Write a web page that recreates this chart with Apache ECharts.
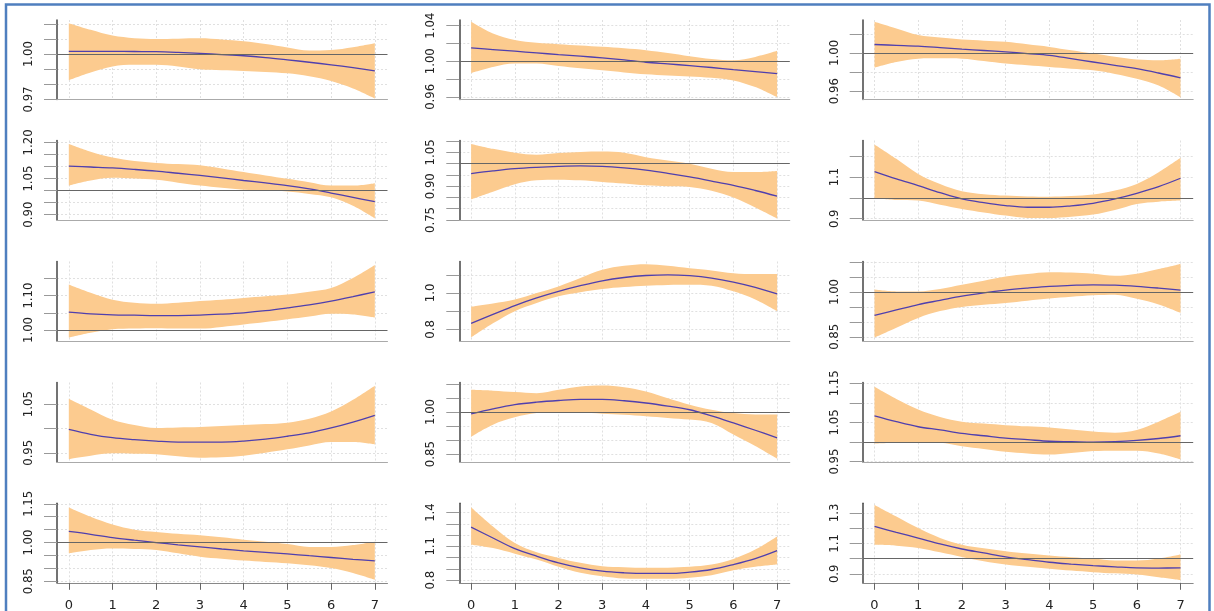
<!DOCTYPE html>
<html><head><meta charset="utf-8">
<script src="https://cdn.jsdelivr.net/npm/echarts@6/dist/echarts.min.js"></script>
<style>html,body{margin:0;padding:0;background:#fff}#c{width:1214px;height:611px}</style>
</head><body><div id="c"></div>
<script>
// x positions (years) at which the curves were read
const xValues = [0,0.5,1,1.5,2,2.5,3,3.5,4,4.5,5,5.5,6,6.5,7];
const xTickValues = [0,1,2,3,4,5,6,7];
const xTickLabels = ['0','1','2','3','4','5','6','7'];

// Row 1
const p11Mean  = [1.0018,1.0018,1.0018,1.0017,1.0016,1.0011,1.0004,0.9997,0.9989,0.9977,0.9962,0.9946,0.9929,0.9910,0.9889];
const p11Upper = [1.0204,1.0160,1.0122,1.0105,1.0100,1.0102,1.0104,1.0096,1.0084,1.0066,1.0044,1.0024,1.0027,1.0045,1.0071];
const p11Lower = [0.9827,0.9878,0.9918,0.9929,0.9929,0.9918,0.9900,0.9893,0.9889,0.9882,0.9873,0.9853,0.9822,0.9773,0.9707];
const p12Mean  = [1.0151,1.0132,1.0113,1.0094,1.0075,1.0057,1.0038,1.0015,0.9989,0.9970,0.9951,0.9930,0.9906,0.9883,0.9860];
const p12Upper = [1.0445,1.0313,1.0238,1.0208,1.0192,1.0177,1.0162,1.0145,1.0125,1.0093,1.0057,1.0026,1.0011,1.0049,1.0117];
const p12Lower = [0.9868,0.9936,0.9974,0.9974,0.9947,0.9922,0.9898,0.9875,0.9853,0.9840,0.9830,0.9815,0.9785,0.9710,0.9596];
const p13Mean  = [1.0088,1.0079,1.0070,1.0055,1.0039,1.0025,1.0011,0.9993,0.9975,0.9940,0.9905,0.9870,0.9835,0.9790,0.9740];
const p13Upper = [1.0326,1.0256,1.0186,1.0160,1.0140,1.0128,1.0116,1.0090,1.0063,1.0028,0.9993,0.9960,0.9930,0.9923,0.9940];
const p13Lower = [0.9846,0.9905,0.9940,0.9943,0.9940,0.9915,0.9888,0.9870,0.9853,0.9835,0.9818,0.9780,0.9730,0.9660,0.9537];
// Row 2
const p21Mean  = [1.102,1.098,1.094,1.088,1.081,1.072,1.063,1.053,1.042,1.032,1.021,1.007,0.990,0.972,0.954];
const p21Upper = [1.193,1.161,1.137,1.123,1.115,1.110,1.105,1.092,1.077,1.063,1.049,1.035,1.021,1.021,1.031];
const p21Lower = [1.021,1.042,1.053,1.050,1.045,1.033,1.021,1.012,1.004,1.000,0.996,0.986,0.972,0.937,0.885];
const p22Mean  = [0.956,0.968,0.978,0.984,0.988,0.990,0.988,0.981,0.971,0.957,0.941,0.923,0.904,0.881,0.856];
const p22Upper = [1.088,1.066,1.049,1.040,1.047,1.052,1.054,1.049,1.029,1.014,1.000,0.978,0.963,0.963,0.968];
const p22Lower = [0.841,0.875,0.909,0.926,0.929,0.926,0.919,0.912,0.904,0.900,0.897,0.880,0.850,0.806,0.757];
const p23Mean  = [1.126,1.091,1.059,1.025,0.995,0.977,0.963,0.955,0.955,0.962,0.974,0.995,1.022,1.054,1.094];
const p23Upper = [1.256,1.187,1.115,1.067,1.032,1.018,1.011,1.007,1.006,1.009,1.016,1.035,1.067,1.123,1.192];
const p23Lower = [1.000,0.990,0.987,0.967,0.947,0.930,0.915,0.904,0.904,0.910,0.920,0.942,0.971,0.982,0.987];
// Row 3
const p31Mean  = [1.052,1.047,1.044,1.043,1.042,1.042,1.043,1.046,1.050,1.056,1.064,1.073,1.084,1.097,1.111];
const p31Upper = [1.132,1.108,1.088,1.079,1.076,1.079,1.084,1.088,1.093,1.098,1.103,1.111,1.122,1.151,1.189];
const p31Lower = [0.978,0.992,1.002,1.004,1.005,1.004,1.004,1.009,1.016,1.023,1.031,1.039,1.047,1.045,1.036];
const p32Mean  = [0.833,0.882,0.931,0.973,1.009,1.040,1.067,1.085,1.096,1.100,1.095,1.082,1.060,1.031,0.995];
const p32Upper = [0.924,0.942,0.964,1.000,1.036,1.082,1.127,1.149,1.158,1.149,1.136,1.124,1.109,1.104,1.104];
const p32Lower = [0.755,0.833,0.900,0.945,0.982,1.004,1.022,1.033,1.040,1.044,1.045,1.040,1.009,0.964,0.900];
const p33Mean  = [0.922,0.940,0.958,0.972,0.986,0.997,1.006,1.013,1.019,1.022,1.024,1.023,1.019,1.013,1.006];
const p33Upper = [1.008,1.002,1.002,1.010,1.024,1.038,1.052,1.060,1.066,1.065,1.061,1.054,1.061,1.077,1.094];
const p33Lower = [0.847,0.880,0.913,0.936,0.950,0.957,0.963,0.971,0.978,0.984,0.989,0.991,0.977,0.958,0.930];
// Row 4
const p41Mean  = [0.998,0.988,0.981,0.977,0.974,0.972,0.972,0.972,0.974,0.978,0.984,0.991,1.001,1.013,1.027];
const p41Upper = [1.061,1.039,1.018,1.007,1.001,1.002,1.003,1.005,1.007,1.009,1.012,1.020,1.035,1.059,1.088];
const p41Lower = [0.937,0.944,0.949,0.948,0.947,0.943,0.940,0.941,0.944,0.950,0.957,0.965,0.972,0.972,0.967];
const p42Mean  = [0.993,1.011,1.026,1.035,1.041,1.045,1.045,1.040,1.032,1.021,1.008,0.986,0.961,0.935,0.908];
const p42Upper = [1.079,1.076,1.071,1.067,1.079,1.091,1.094,1.088,1.073,1.049,1.026,1.008,0.996,0.991,0.991];
const p42Lower = [0.912,0.955,0.981,0.996,1.000,0.998,0.994,0.990,0.985,0.979,0.973,0.961,0.920,0.879,0.834];
const p43Mean  = [1.067,1.052,1.039,1.031,1.022,1.016,1.010,1.006,1.002,1.001,1.000,1.001,1.004,1.009,1.016];
const p43Upper = [1.141,1.110,1.083,1.064,1.052,1.047,1.043,1.040,1.037,1.032,1.027,1.024,1.031,1.052,1.077];
const p43Lower = [0.996,0.998,0.999,0.998,0.989,0.982,0.975,0.971,0.968,0.972,0.977,0.978,0.978,0.971,0.956];
// Row 5
const p51Mean  = [1.043,1.032,1.019,1.009,1.000,0.991,0.983,0.975,0.968,0.962,0.956,0.949,0.942,0.935,0.929];
const p51Upper = [1.136,1.100,1.070,1.050,1.041,1.034,1.028,1.020,1.011,1.003,0.994,0.983,0.983,0.990,1.003];
const p51Lower = [0.958,0.971,0.977,0.975,0.971,0.958,0.945,0.937,0.930,0.925,0.920,0.912,0.901,0.882,0.856];
const p52Mean  = [1.271,1.174,1.079,1.012,0.953,0.909,0.879,0.865,0.859,0.859,0.871,0.894,0.938,0.991,1.062];
const p52Upper = [1.447,1.276,1.129,1.047,0.997,0.953,0.924,0.915,0.909,0.910,0.918,0.938,0.988,1.071,1.188];
const p52Lower = [1.115,1.085,1.035,0.982,0.918,0.865,0.835,0.815,0.812,0.812,0.821,0.844,0.888,0.918,0.938];
const p53Mean  = [1.211,1.172,1.135,1.096,1.063,1.037,1.011,0.993,0.976,0.964,0.954,0.946,0.939,0.938,0.939];
const p53Upper = [1.352,1.276,1.200,1.135,1.091,1.068,1.048,1.033,1.020,1.009,1.000,0.987,0.987,1.000,1.026];
const p53Lower = [1.091,1.085,1.070,1.041,1.011,0.983,0.961,0.946,0.933,0.921,0.911,0.903,0.896,0.878,0.859];

// y axis ranges, ticks and tick labels per panel (row-major)
const yMins = [0.970,0.957,0.9513, 0.878,0.750,0.894, 0.968,0.736,0.836, 0.931,0.822,0.949, 0.844,0.776,0.841];
const yMaxs = [1.0225,1.0464,1.0344, 1.208,1.103,1.275, 1.199,1.173,1.102, 1.0946,1.105,1.152, 1.152,1.482,1.363];
const yTicks = [
  [0.97,0.98,0.99,1.00,1.01,1.02], [0.96,0.98,1.00,1.02,1.04], [0.96,0.98,1.00,1.02],
  [0.90,0.95,1.00,1.05,1.10,1.15,1.20], [0.75,0.80,0.85,0.90,0.95,1.00,1.05,1.10], [0.9,1.0,1.1,1.2],
  [1.00,1.05,1.10,1.15], [0.8,0.9,1.0,1.1], [0.85,0.90,0.95,1.00,1.05,1.10],
  [0.95,1.00,1.05], [0.85,0.90,0.95,1.00,1.05,1.10], [0.95,1.00,1.05,1.10,1.15],
  [0.85,0.90,0.95,1.00,1.05,1.10,1.15], [0.8,0.9,1.0,1.1,1.2,1.3,1.4], [0.9,1.0,1.1,1.2,1.3]
];
const yLabels = [
  ['0.97','1.00'], ['0.96','1.00','1.04'], ['0.96','1.00'],
  ['0.90','1.05','1.20'], ['0.75','0.90','1.05'], ['0.9','1.1'],
  ['1.00','1.10'], ['0.8','1.0'], ['0.85','1.00'],
  ['0.95','1.05'], ['0.85','1.00'], ['0.95','1.05','1.15'],
  ['0.85','1.00','1.15'], ['0.8','1.1','1.4'], ['0.9','1.1','1.3']
];
const refLine = [true,true,true, true,true,true, true,false,true, false,true,true, true,false,true];

const panels = [
  [p11Mean,p11Lower,p11Upper],[p12Mean,p12Lower,p12Upper],[p13Mean,p13Lower,p13Upper],
  [p21Mean,p21Lower,p21Upper],[p22Mean,p22Lower,p22Upper],[p23Mean,p23Lower,p23Upper],
  [p31Mean,p31Lower,p31Upper],[p32Mean,p32Lower,p32Upper],[p33Mean,p33Lower,p33Upper],
  [p41Mean,p41Lower,p41Upper],[p42Mean,p42Lower,p42Upper],[p43Mean,p43Lower,p43Upper],
  [p51Mean,p51Lower,p51Upper],[p52Mean,p52Lower,p52Upper],[p53Mean,p53Lower,p53Upper]
];

// layout
const colLefts = [57, 459.3, 862.7];
const colWidth = 330.5;
const rowTops = [20, 140.5, 261.5, 382.5, 503.3];
const rowHeight = 79.5;
const bandColor = '#fccb8f';
const lineColor = '#4f3fae';
const gridColor = '#e0e0e0';
const yFont = "'Liberation Sans Narrow','DejaVu Sans Condensed','Liberation Sans',sans-serif";

const grids = [], xAxes = [], yAxes = [], series = [];
panels.forEach((p, i) => {
  const row = Math.floor(i / 3), col = i % 3;
  const bottomRow = row === 4;
  grids.push({left: colLefts[col], top: rowTops[row], width: colWidth, height: rowHeight,
    containLabel: false, outerBoundsMode: 'none'});
  xAxes.push({
    type: 'value', gridIndex: i, min: -0.27, max: 7.29,
    axisLine: {show: true, onZero: false, lineStyle: {color: bottomRow ? '#888' : '#aaa', width: 1}},
    axisTick: {show: bottomRow, customValues: xTickValues, length: 7, lineStyle: {color: '#666'}},
    axisLabel: {show: bottomRow, customValues: xTickValues, formatter: v => xTickLabels[xTickValues.indexOf(v)],
      fontSize: 13, fontFamily: "'DejaVu Sans',sans-serif", color: '#222', margin: 16},
    splitLine: {show: true, lineStyle: {type: [2, 2], color: gridColor, width: 1}}
  });
  const digits = yLabels[i][0].split('.')[1].length;
  yAxes.push({
    type: 'value', gridIndex: i, min: yMins[i], max: yMaxs[i],
    axisLine: {show: true, onZero: false, lineStyle: {color: '#444', width: 1.5}},
    axisTick: {show: true, customValues: yTicks[i], length: 13, lineStyle: {color: '#999'}},
    axisLabel: {customValues: yLabels[i].map(Number), rotate: 90, margin: 22,
      formatter: v => v.toFixed(digits), fontSize: 13, fontFamily: yFont, color: '#222'},
    splitLine: {show: true, lineStyle: {type: [2, 2], color: gridColor, width: 1}}
  });
  const [mean, lower, upper] = p;
  // data stored as [y, x] so that stacking happens on the y dimension
  series.push({
    type: 'line', xAxisIndex: i, yAxisIndex: i, stack: 'band' + i, silent: true,
    encode: {x: 1, y: 0},
    symbol: 'none', smooth: 0.35, lineStyle: {opacity: 0, width: 0},
    data: xValues.map((x, k) => [lower[k], x])
  });
  series.push({
    type: 'line', xAxisIndex: i, yAxisIndex: i, stack: 'band' + i, silent: true,
    encode: {x: 1, y: 0},
    symbol: 'none', smooth: 0.35, lineStyle: {opacity: 0, width: 0},
    areaStyle: {color: bandColor, opacity: 1},
    data: xValues.map((x, k) => [upper[k] - lower[k], x])
  });
  const s = {
    type: 'line', xAxisIndex: i, yAxisIndex: i, silent: true,
    symbol: 'none', smooth: 0.35, lineStyle: {color: lineColor, width: 1.3},
    data: xValues.map((x, k) => [x, mean[k]])
  };
  if (refLine[i]) {
    s.markLine = {silent: true, symbol: 'none', label: {show: false}, animation: false,
      lineStyle: {color: '#666', type: 'solid', width: 1}, data: [{yAxis: 1}]};
  }
  series.push(s);
});

const chart = echarts.init(document.getElementById('c'), null, {renderer: 'canvas'});
chart.setOption({
  animation: false,
  backgroundColor: '#fff',
  grid: grids, xAxis: xAxes, yAxis: yAxes, series: series,
  graphic: [
    {type: 'rect', silent: true, z: 100, shape: {x: 6, y: 4.5, width: 1203.5, height: 610},
      style: {fill: null, stroke: '#4f7fbf', lineWidth: 2.5}}
  ]
});
</script></body></html>
